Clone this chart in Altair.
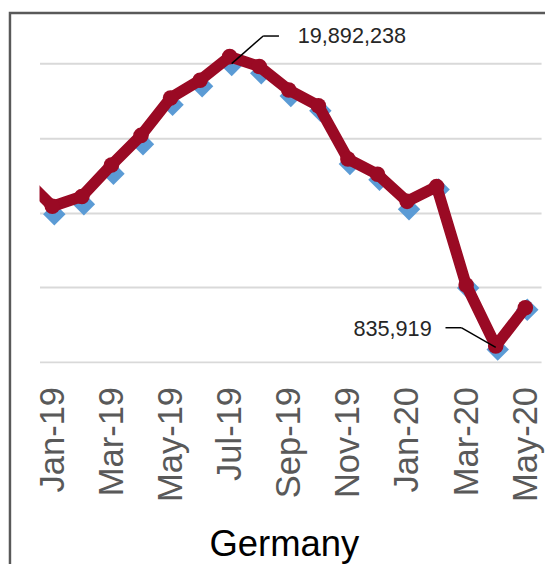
import json
import altair as alt
import pandas as pd

# ---- data ----
months = ["Dec-18", "Jan-19", "Feb-19", "Mar-19", "Apr-19", "May-19", "Jun-19",
          "Jul-19", "Aug-19", "Sep-19", "Oct-19", "Nov-19", "Dec-19", "Jan-20",
          "Feb-20", "Mar-20", "Apr-20", "May-20"]
month_index = list(range(-1, 17))
series_blue = [None, 9900000, 10560000, 12610000, 14590000, 17230000, 18480000,
               19892238, 19340000, 17820000, 16830000, 13270000, 12210000,
               10230000, 11550000, 4950000, 835919, 3500000]
series_red = [12410000, 10430000, 11090000, 13200000, 15180000, 17690000, 18880000,
              20460000, 19800000, 18220000, 17160000, 13600000, 12570000,
              10760000, 11750000, 5150000, 1060000, 3630000]
tick_values = list(range(0, 17, 2))
grid_values = [0, 5000000, 10000000, 15000000, 20000000]
chart_title = "Germany"

rows = []
for i, m, b, r in zip(month_index, months, series_blue, series_red):
    rows.append({"idx": i, "month": m, "value": b, "series": "blue"})
    rows.append({"idx": i, "month": m, "value": r, "series": "red"})
df = pd.DataFrame(rows)

valid_blue = [(i, v) for i, v in zip(month_index, series_blue) if v is not None]
peak = max(valid_blue, key=lambda t: t[1])
low = min(valid_blue, key=lambda t: t[1])
peak_df = pd.DataFrame([{"idx": peak[0], "value": peak[1], "label": f"{peak[1]:,}"}])
low_df = pd.DataFrame([{"idx": low[0], "value": low[1], "label": f"{low[1]:,}"}])

FONT = "Liberation Sans"
RED = "#9a0a24"
BLUE = "#5b9bd5"

label_expr = json.dumps(months[1:]) + "[datum.value]"

x_enc = alt.X(
    "idx:Q",
    scale=alt.Scale(domain=[-0.433, 16.533], nice=False, zero=False),
    axis=alt.Axis(
        values=tick_values, labelExpr=label_expr, labelAngle=-90,
        labelFontSize=35, labelFont=FONT, labelColor="#595959",
        labelPadding=25, labelFlush=False, labelOverlap=False, labelBound=False,
        ticks=False, domain=False, grid=False,
        title=chart_title, titleFont=FONT, titleFontSize=37,
        titleFontWeight="normal", titleColor="#000000",
        titleX=248, titleY=197, titleAlign="center", titleBaseline="alphabetic",
    ),
)
y_enc = alt.Y(
    "value:Q",
    scale=alt.Scale(domain=[0, 21200000], nice=False, zero=True),
    axis=alt.Axis(values=grid_values, labels=False, ticks=False, domain=False,
                  title=None, grid=True, gridColor="#d9d9d9", gridWidth=2),
)

base = alt.Chart(df).encode(x=x_enc, y=y_enc)

frame = alt.Chart(pd.DataFrame({"k": [0]})).mark_rect(
    fillOpacity=0, stroke="#595959", strokeWidth=2.5
).encode(
    x=alt.value(-30), x2=alt.value(560), y=alt.value(-33), y2=alt.value(600)
)

blue_pts = base.transform_filter(alt.datum.series == "blue").mark_point(
    shape="diamond", filled=True, size=520, color=BLUE, opacity=1, xOffset=2, clip=True
)
red_line = base.transform_filter(alt.datum.series == "red").mark_line(
    color=RED, strokeWidth=11.5, strokeJoin="round", strokeCap="round", clip=True
)
red_pts = base.transform_filter(alt.datum.series == "red").mark_circle(
    size=250, color=RED, opacity=1, clip=True
)

peak_base = alt.Chart(peak_df).encode(x=x_enc, y=y_enc)
peak_l1 = peak_base.mark_rule(color="#000000", strokeWidth=1.5,
                              xOffset=2, yOffset=-1.5, x2Offset=34, y2Offset=-29.5
                              ).encode(x2="idx:Q", y2="value:Q")
peak_l2 = peak_base.mark_rule(color="#000000", strokeWidth=1.5,
                              xOffset=34, yOffset=-29.5, x2Offset=50, y2Offset=-29.5
                              ).encode(x2="idx:Q", y2="value:Q")
peak_txt = peak_base.mark_text(align="left", baseline="middle", dx=69, dy=-29,
                               font=FONT, fontSize=22, color="#262626"
                               ).encode(text="label:N")

low_base = alt.Chart(low_df).encode(x=x_enc, y=y_enc)
low_l1 = low_base.mark_rule(color="#000000", strokeWidth=1.5,
                            xOffset=0, yOffset=-2, x2Offset=-35, y2Offset=-22
                            ).encode(x2="idx:Q", y2="value:Q")
low_l2 = low_base.mark_rule(color="#000000", strokeWidth=1.5,
                            xOffset=-35, yOffset=-22, x2Offset=-51, y2Offset=-22
                            ).encode(x2="idx:Q", y2="value:Q")
low_txt = low_base.mark_text(align="right", baseline="middle", dx=-65, dy=-21,
                             font=FONT, fontSize=22, color="#262626"
                             ).encode(text="label:N")

chart = alt.layer(
    frame, blue_pts, red_line, red_pts,
    peak_l1, peak_l2, peak_txt, low_l1, low_l2, low_txt
).properties(
    width=509, height=321,
    autosize=alt.AutoSizeParams(type="none"),
    padding={"left": 32, "top": 34, "right": 4, "bottom": 201},
    background="white",
).configure_view(stroke=None)

chart.save("out.html", embed_options={"renderer": "svg", "actions": False})
